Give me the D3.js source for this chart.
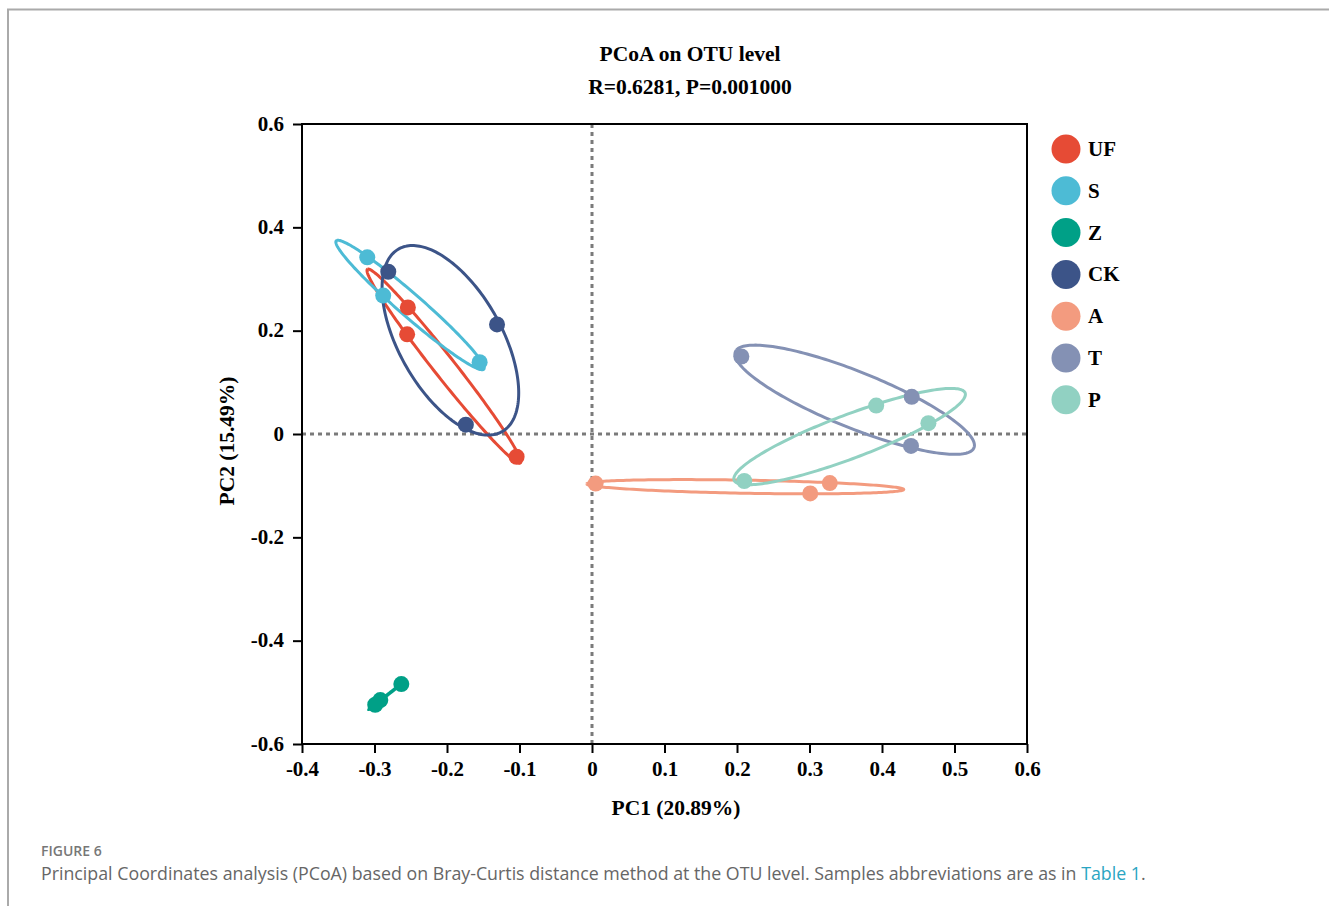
<!DOCTYPE html>
<html>
<head>
<meta charset="utf-8">
<script src="https://cdn.jsdelivr.net/npm/d3@7"></script>
<style>
  body { margin: 0; background: #fff; }
  .tick text { font-family: "Liberation Serif", serif; font-weight: bold; font-size: 21px; fill: #000; }
</style>
</head>
<body>
<div id="chart"></div>
<script>
// groups and their colours
var groups = ["UF", "S", "Z", "CK", "A", "T", "P"];
var colors = ["#E64B35", "#4DBBD5", "#00A087", "#3C5488", "#F39B7F", "#8491B4", "#91D1C2"];

// sample coordinates
var groupOf = ["UF", "UF", "UF", "S", "S", "S", "Z", "Z", "Z", "CK", "CK", "CK", "A", "A", "A", "T", "T", "T", "P", "P", "P"];
var pc1 = [-0.254, -0.255, -0.104, -0.310, -0.288, -0.155, -0.263, -0.292, -0.299, -0.281, -0.131, -0.174, 0.005, 0.301, 0.328, 0.206, 0.441, 0.440, 0.210, 0.392, 0.464];
var pc2 = [0.245, 0.193, -0.044, 0.342, 0.268, 0.139, -0.484, -0.515, -0.524, 0.314, 0.212, 0.018, -0.096, -0.115, -0.095, 0.150, 0.072, -0.023, -0.091, 0.055, 0.021];

var xTicks = [-0.4, -0.3, -0.2, -0.1, 0, 0.1, 0.2, 0.3, 0.4, 0.5, 0.6];
var yTicks = [-0.6, -0.4, -0.2, 0, 0.2, 0.4, 0.6];

var svgWidth = 1329;
var svgHeight = 906;
var margin = { top: 124, left: 302 };
var width = 725;
var height = 620;

var svg = d3.select("#chart")
  .append("svg")
  .attr("width", svgWidth)
  .attr("height", svgHeight);

// figure frame
svg.append("path")
  .attr("d", "M8,906 L8,9.5 L1329,9.5")
  .attr("fill", "none")
  .attr("stroke", "#aaa")
  .attr("stroke-width", 2);

var chartGroup = svg.append("g")
  .attr("transform", `translate(${margin.left}, ${margin.top})`);

var xScale = d3.scaleLinear().domain([-0.4, 0.6]).range([0, width]);
var yScale = d3.scaleLinear().domain([-0.6, 0.6]).range([height, 0]);
var color = d3.scaleOrdinal().domain(groups).range(colors);

// zero reference lines
chartGroup.append("line")
  .attr("x1", xScale(0)).attr("x2", xScale(0))
  .attr("y1", 0).attr("y2", height)
  .attr("stroke", "#7a7a7a").attr("stroke-width", 3)
  .attr("stroke-dasharray", "4,4");
chartGroup.append("line")
  .attr("x1", 0).attr("x2", width)
  .attr("y1", yScale(0)).attr("y2", yScale(0))
  .attr("stroke", "#7a7a7a").attr("stroke-width", 3)
  .attr("stroke-dasharray", "4,4");

// confidence ellipse from sample covariance
var ellScale = 1.22;
function ellipsePoints(xs, ys) {
  var n = xs.length;
  var mx = d3.mean(xs), my = d3.mean(ys);
  var sxx = 0, syy = 0, sxy = 0;
  for (var i = 0; i < n; i++) {
    sxx += (xs[i] - mx) * (xs[i] - mx);
    syy += (ys[i] - my) * (ys[i] - my);
    sxy += (xs[i] - mx) * (ys[i] - my);
  }
  sxx /= (n - 1); syy /= (n - 1); sxy /= (n - 1);
  // eigen decomposition of 2x2 covariance
  var tr = sxx + syy, det = sxx * syy - sxy * sxy;
  var disc = Math.sqrt(Math.max(tr * tr / 4 - det, 0));
  var l1 = tr / 2 + disc, l2 = Math.max(tr / 2 - disc, 0);
  var ang = Math.atan2(l1 - sxx, sxy);
  if (Math.abs(sxy) < 1e-12) ang = sxx >= syy ? 0 : Math.PI / 2;
  var a = ellScale * Math.sqrt(l1), b = ellScale * Math.sqrt(l2);
  var pts = [];
  for (var k = 0; k <= 200; k++) {
    var t = 2 * Math.PI * k / 200;
    var ex = a * Math.cos(t), ey = b * Math.sin(t);
    pts.push([mx + ex * Math.cos(ang) - ey * Math.sin(ang), my + ex * Math.sin(ang) + ey * Math.cos(ang)]);
  }
  return pts;
}

var line = d3.line()
  .x(d => xScale(d[0]))
  .y(d => yScale(d[1]));

groups.forEach(function(g) {
  var xs = [], ys = [];
  groupOf.forEach(function(gg, i) {
    if (gg === g) { xs.push(pc1[i]); ys.push(pc2[i]); }
  });
  chartGroup.append("path")
    .attr("d", line(ellipsePoints(xs, ys)))
    .attr("fill", "none")
    .attr("stroke", color(g))
    .attr("stroke-width", 3);
});

// points
chartGroup.selectAll("circle.pt")
  .data(pc1.map((v, i) => ({ x: v, y: pc2[i], g: groupOf[i] })))
  .enter()
  .append("circle")
  .attr("class", "pt")
  .attr("cx", d => xScale(d.x))
  .attr("cy", d => yScale(d.y))
  .attr("r", 8)
  .attr("fill", d => color(d.g));

// axes, hyphen minus like the original
var fmt = d => d === 0 ? "0" : d3.format(".1f")(d).replace("\u2212", "-");
var bottomAxis = d3.axisBottom(xScale).tickValues(xTicks).tickSize(9).tickPadding(5).tickFormat(fmt);
var leftAxis = d3.axisLeft(yScale).tickValues(yTicks).tickSize(9).tickPadding(9).tickFormat(fmt);

var xAxis = chartGroup.append("g")
  .attr("transform", `translate(0, ${height})`)
  .call(bottomAxis);
var yAxis = chartGroup.append("g").call(leftAxis);

[xAxis, yAxis].forEach(function(ax) {
  ax.select(".domain").remove();
  ax.selectAll(".tick line").attr("stroke", "#000").attr("stroke-width", 2);
});
xAxis.selectAll(".tick text").attr("dy", "0.85em");
yAxis.selectAll(".tick text").attr("dy", "0.3em");

// plot frame
chartGroup.append("rect")
  .attr("width", width)
  .attr("height", height)
  .attr("fill", "none")
  .attr("stroke", "#000")
  .attr("stroke-width", 2);

// titles
var serif = "'Liberation Serif', 'Times New Roman', serif";
svg.append("text")
  .attr("x", 690).attr("y", 61)
  .attr("text-anchor", "middle")
  .attr("font-family", serif).attr("font-weight", "bold").attr("font-size", "21.5px")
  .text("PCoA on OTU level");
svg.append("text")
  .attr("x", 690).attr("y", 94)
  .attr("text-anchor", "middle")
  .attr("font-family", serif).attr("font-weight", "bold").attr("font-size", "21.5px")
  .text("R=0.6281, P=0.001000");

svg.append("text")
  .attr("x", 676).attr("y", 815)
  .attr("text-anchor", "middle")
  .attr("font-family", serif).attr("font-weight", "bold").attr("font-size", "21.5px")
  .text("PC1 (20.89%)");
svg.append("text")
  .attr("transform", "translate(234, 441) rotate(-90)")
  .attr("text-anchor", "middle")
  .attr("font-family", serif).attr("font-weight", "bold").attr("font-size", "21.5px")
  .text("PC2 (15.49%)");

// legend
var legend = svg.append("g").attr("transform", "translate(1066, 149)");
var items = legend.selectAll("g")
  .data(groups)
  .enter()
  .append("g")
  .attr("transform", (d, i) => `translate(0, ${i * 41.8})`);
items.append("circle")
  .attr("r", 14.5)
  .attr("fill", d => color(d));
items.append("text")
  .attr("x", 22)
  .attr("y", 7)
  .attr("font-family", serif).attr("font-weight", "bold").attr("font-size", "21px")
  .text(d => d);

// caption
svg.append("text")
  .attr("x", 41).attr("y", 856)
  .attr("font-family", "'Open Sans', sans-serif").attr("font-size", "14px")
  .attr("font-weight", "600")
  .attr("fill", "#777")
  .text("FIGURE 6");
var cap = svg.append("text")
  .attr("x", 41).attr("y", 880)
  .attr("font-family", "'Open Sans', sans-serif").attr("font-size", "17.8px")
  .attr("fill", "#666");
cap.append("tspan").text("Principal Coordinates analysis (PCoA) based on Bray-Curtis distance method at the OTU level. Samples abbreviations are as in ");
cap.append("tspan").attr("fill", "#2aa5c2").text("Table 1");
cap.append("tspan").text(".");
</script>
</body>
</html>
